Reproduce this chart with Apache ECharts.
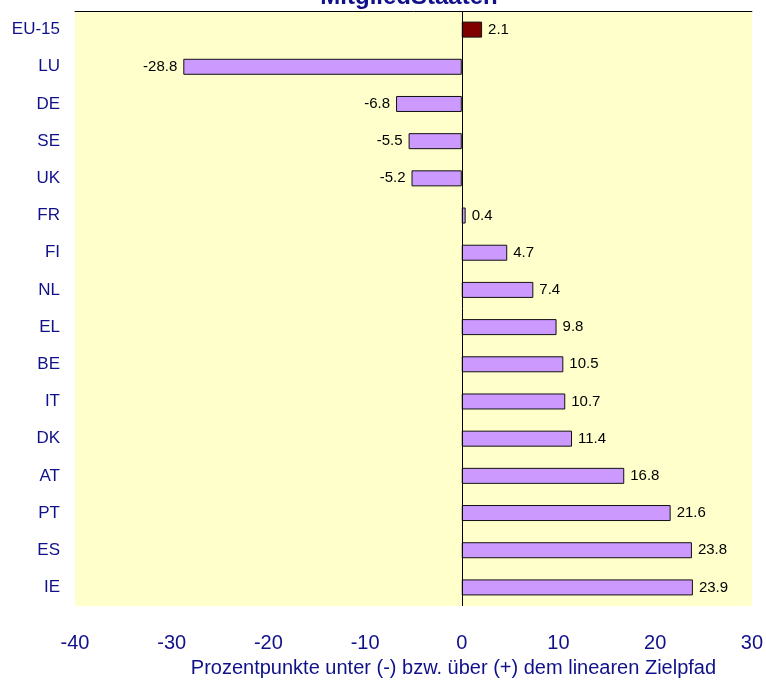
<!DOCTYPE html>
<html>
<head>
<meta charset="utf-8">
<script src="https://cdn.jsdelivr.net/npm/echarts@6/dist/echarts.min.js"></script>
<style>
html,body{margin:0;padding:0;background:#fff;}
#chart{width:766px;height:684px;}
</style>
</head>
<body>
<div id="chart"></div>
<script>
// Mitgliedstaaten, Abweichung vom linearen Zielpfad
var countries = ['EU-15','LU','DE','SE','UK','FR','FI','NL','EL','BE','IT','DK','AT','PT','ES','IE'];
var values = [2.1,-28.8,-6.8,-5.5,-5.2,0.4,4.7,7.4,9.8,10.5,10.7,11.4,16.8,21.6,23.8,23.9];
var xTicks = [-40,-30,-20,-10,0,10,20,30];

var navy = '#10108a';
var sans = '"Liberation Sans",Arial,sans-serif';

var barData = [];
for(var i=0;i<values.length;i++){
	var item = {
		value: values[i],
		label: { position: values[i] < 0 ? 'left' : 'right' }
	};
	if(countries[i]=='EU-15'){
		item.itemStyle = { color:'#800000' };
	}
	barData.push(item);
}

var myChart = echarts.init(document.getElementById('chart'));
var option = {
	animation:false,
	title:{
		text:'MitgliedStaaten',
		left:404,
		textAlign:'center',
		top:-20,
		textStyle:{ color:navy, fontSize:24, fontWeight:'bold', fontFamily:sans }
	},
	grid:{
		left:75, right:14, top:11, bottom:78,
		show:true, backgroundColor:'#ffffcc', borderWidth:0
	},
	xAxis:[{
		type:'value',
		min:xTicks[0], max:xTicks[xTicks.length-1], interval:10,
		position:'bottom',
		splitLine:{show:false},
		axisLine:{show:false},
		axisTick:{show:false},
		axisLabel:{ color:navy, fontSize:20, fontFamily:sans, margin:27 },
		name:'Prozentpunkte unter (-) bzw. über (+) dem linearen Zielpfad',
		nameLocation:'middle',
		nameGap:52,
		nameTextStyle:{ color:navy, fontSize:20, fontFamily:sans, padding:[0,0,0,80] }
	},{
		type:'value',
		min:xTicks[0], max:xTicks[xTicks.length-1], interval:10,
		position:'top',
		splitLine:{show:false},
		axisLine:{show:true, onZero:false, lineStyle:{color:'#000', width:1}},
		axisTick:{show:false},
		axisLabel:{show:false}
	}],
	yAxis:{
		type:'category',
		data:countries,
		inverse:true,
		axisLine:{show:false},
		axisTick:{show:false},
		axisLabel:{ color:navy, fontSize:17, fontFamily:sans, margin:15 }
	},
	series:[{
		type:'bar',
		xAxisIndex:0,
		data:barData,
		barWidth:16,
		itemStyle:{ color:'#cc99ff', borderColor:'#111', borderWidth:1 },
		label:{ show:true, color:'#000', fontSize:15, fontFamily:sans, distance:6 },
		markLine:{
			silent:true,
			symbol:'none',
			label:{show:false},
			lineStyle:{ color:'#000', width:1, type:'solid' },
			data:[{ xAxis:0 }]
		}
	}]
};
myChart.setOption(option,true);
</script>
</body>
</html>
